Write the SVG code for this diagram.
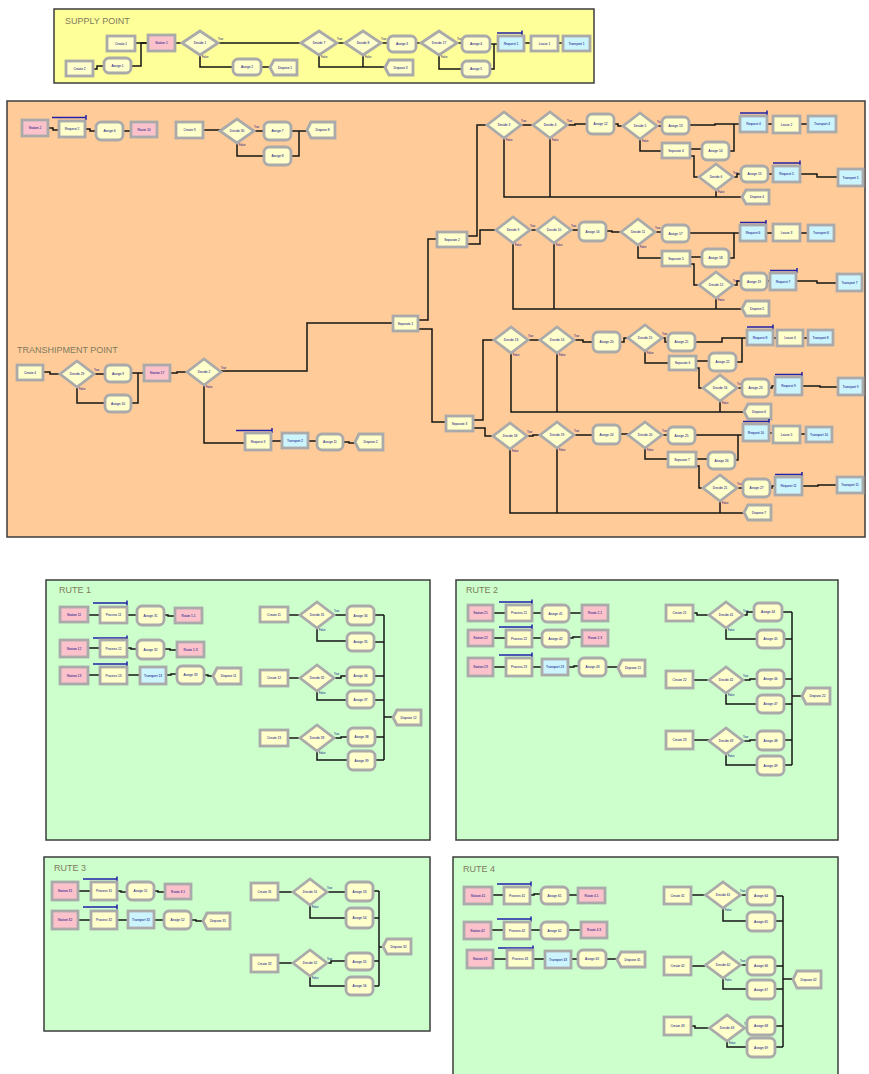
<svg xmlns="http://www.w3.org/2000/svg" width="869" height="1074" viewBox="0 0 869 1074">
<style>
.pn{stroke:#3c3c3c;stroke-width:1.5}
.y,.p,.c{stroke:#aaaaaa;stroke-width:2.8}
.y{fill:#ffffcc}.p{fill:#fbc2cc}.c{fill:#ccf4fd}
.t{font-family:"Liberation Sans",Arial,sans-serif;font-size:3.2px;fill:#000080;text-anchor:middle}
.tf{font-family:"Liberation Sans",Arial,sans-serif;font-size:2.6px;fill:#000080}
.ttl{font-family:"Liberation Sans",Arial,sans-serif;font-size:9px;fill:#807a5e}
#connectors path{fill:none;stroke:#141414;stroke-width:1.5}
.q{fill:none;stroke:#2020a8;stroke-width:1.5}
</style>
<rect width="869" height="1074" fill="#ffffff"/>
<g id="panels">
<rect class="pn" x="54" y="9" width="540" height="74" fill="#ffff99"/>
<rect class="pn" x="7" y="101" width="858" height="436" fill="#ffcc99"/>
<rect class="pn" x="46" y="580" width="384" height="260" fill="#ccffcc"/>
<rect class="pn" x="456" y="580" width="382" height="260" fill="#ccffcc"/>
<rect class="pn" x="44" y="857" width="386" height="174" fill="#ccffcc"/>
<rect class="pn" x="453" y="857" width="385" height="222" fill="#ccffcc"/>
<text class="ttl" x="65" y="24">SUPPLY POINT</text>
<text class="ttl" x="17" y="353">TRANSHIPMENT POINT</text>
<text class="ttl" x="59" y="593">RUTE 1</text>
<text class="ttl" x="466" y="593">RUTE 2</text>
<text class="ttl" x="54" y="871">RUTE 3</text>
<text class="ttl" x="463" y="872">RUTE 4</text>
</g>
<g id="connectors">
<path d="M93 69H97V66H104"/><path d="M131 66H141V43H148"/><path d="M135 43H148"/><path d="M175 43H182"/><path d="M218 43H301"/><path d="M200 55V67H233"/><path d="M261 67H270"/><path d="M337 43H345"/><path d="M319 55V67H385"/><path d="M363 55V67"/><path d="M381 43H388"/><path d="M416 43H421"/><path d="M457 43H462"/><path d="M439 55V69H462"/><path d="M490 44H498"/><path d="M490 69H494V44"/><path d="M524 43H531"/><path d="M558 43H563"/>
<path d="M48 128H53V130H59"/><path d="M85 129H90V131H96"/><path d="M123 131H131"/><path d="M203 130H220"/><path d="M254 131H264"/><path d="M237 143V156H264"/><path d="M291 131H307"/><path d="M291 156H299V131"/>
<path d="M43 372H50V374H60"/><path d="M94 374H105"/><path d="M77 387V403H105"/><path d="M131 373H144"/><path d="M131 403H138V373"/><path d="M170 373H177V372H187"/><path d="M221 371H307V323H393"/><path d="M204 385V443H245"/><path d="M271 441H282"/><path d="M308 441H317"/><path d="M343 442H349V443H355"/>
<path d="M418 320H428V239H437"/><path d="M418 329H432V422H446"/>
<path d="M467 236H477V125H487"/><path d="M467 244H480V230H496"/>
<path d="M473 420H483V340H494"/><path d="M473 428H485V436H493"/>
<path d="M521 125H533"/><path d="M567 125H575V124H587"/><path d="M614 124H618V126H623"/><path d="M657 126H662"/><path d="M689 125H715V124H740"/><path d="M729 151H734V124"/><path d="M767 124H773"/><path d="M800 124H808"/><path d="M640 139V151H662"/><path d="M690 149H702"/><path d="M690 156H694V177H699"/><path d="M733 177H737V174H741"/><path d="M768 174H773"/><path d="M800 174H817V177H838"/><path d="M504 138V197H742"/><path d="M550 138V197"/><path d="M716 190V197"/>
<path d="M530 230H537"/><path d="M571 230H579"/><path d="M606 231H612V232H621"/><path d="M655 232H662"/><path d="M689 233H740"/><path d="M729 258H734V233"/><path d="M766 233H773"/><path d="M800 233H808"/><path d="M638 245V258H662"/><path d="M690 257H702"/><path d="M690 264H694V285H699"/><path d="M733 285H737V281H741"/><path d="M767 281H770"/><path d="M796 281H817V283H837"/><path d="M513 243V309H742"/><path d="M554 243V309"/><path d="M716 298V309"/>
<path d="M528 340H540"/><path d="M574 340H583V342H593"/><path d="M620 342H624V338H628"/><path d="M662 338H665V342H668"/><path d="M695 342H722V338H747"/><path d="M736 362H742V338"/><path d="M773 338H777"/><path d="M803 338H808"/><path d="M645 351V363H669"/><path d="M696 361H709"/><path d="M696 368H699V388H703"/><path d="M737 388H742"/><path d="M769 388H772V386H775"/><path d="M802 386H820V387H838"/><path d="M511 353V412H744"/><path d="M557 353V412"/><path d="M720 401V412"/>
<path d="M527 436H533V435H540"/><path d="M574 435H593"/><path d="M620 434H628"/><path d="M662 435H668"/><path d="M695 435H743"/><path d="M735 460H738V435"/><path d="M769 433H773"/><path d="M800 434H806"/><path d="M645 448V459H668"/><path d="M696 459H708"/><path d="M696 466H699V488H703"/><path d="M737 488H743"/><path d="M770 488H772V486H775"/><path d="M802 486H818V485H837"/><path d="M510 449V513H744"/><path d="M557 448V513"/><path d="M720 501V513"/>
<path d="M88 615H100"/><path d="M127 615H137"/><path d="M164 615H168V616H175"/><path d="M88 648H100"/><path d="M127 648H131V649H137"/><path d="M164 649H170V650H177"/><path d="M88 675H100"/><path d="M127 675H140"/><path d="M166 675H171V674H177"/><path d="M204 675H208V676H213"/>
<path d="M288 615H300"/><path d="M334 615H347"/><path d="M317 628V641H347"/><path d="M374 615H384"/><path d="M374 642H384"/><path d="M384 615V760"/><path d="M384 717H393"/><path d="M288 678H300"/><path d="M334 678H341V676H347"/><path d="M317 691V700H347"/><path d="M374 676H384"/><path d="M374 700H384"/><path d="M288 738H300"/><path d="M334 738H341V737H348"/><path d="M317 751V760H348"/><path d="M375 737H384"/><path d="M375 760H384"/>
<path d="M493 613H506"/><path d="M532 613H542"/><path d="M569 613H582"/><path d="M493 638H506"/><path d="M532 638H542"/><path d="M569 638H573V637H582"/><path d="M493 667H506"/><path d="M532 667H542"/><path d="M568 667H574V666H579"/><path d="M606 667H618"/>
<path d="M693 613H697V615H709"/><path d="M743 615H747V612H754"/><path d="M726 628V639H757"/><path d="M782 612H792"/><path d="M784 639H792"/><path d="M792 612V765"/><path d="M792 696H802"/><path d="M693 680H709"/><path d="M743 680H750V679H757"/><path d="M726 693V704H757"/><path d="M784 679H792"/><path d="M784 704H792"/><path d="M693 740H709"/><path d="M743 741H750V740H757"/><path d="M726 754V765H757"/><path d="M784 740H792"/><path d="M784 765H792"/>
<path d="M78 891H91"/><path d="M117 891H121V892H127"/><path d="M154 891H158V892H165"/><path d="M78 920H91"/><path d="M117 920H128"/><path d="M154 920H164"/><path d="M191 920H196V921H203"/>
<path d="M278 892H293"/><path d="M327 892H346"/><path d="M310 905V918H346"/><path d="M373 891H379"/><path d="M373 918H379"/><path d="M379 891V986"/><path d="M379 947H383"/><path d="M278 963H293"/><path d="M327 963H331V961H346"/><path d="M310 976V986H346"/><path d="M373 961H379"/><path d="M373 986H379"/>
<path d="M492 895H504"/><path d="M530 895H534V894H541"/><path d="M568 895H578"/><path d="M491 930H504"/><path d="M530 930H541"/><path d="M568 930H581"/><path d="M493 959H507"/><path d="M533 959H545"/><path d="M571 959H578"/><path d="M606 959H617"/>
<path d="M691 895H705"/><path d="M740 895H747"/><path d="M723 908V921H747"/><path d="M775 896H783"/><path d="M775 921H783"/><path d="M783 896V1047"/><path d="M783 979H793"/><path d="M691 966H705"/><path d="M740 965H747"/><path d="M723 978V989H747"/><path d="M775 966H783"/><path d="M775 989H783"/><path d="M691 1026H695V1028H710"/><path d="M744 1028H747"/><path d="M727 1041V1047H747"/><path d="M775 1026H783"/><path d="M775 1047H783"/>
</g>
<g id="nodes-supply">
<g id="sp-create1" transform="translate(107,36)"><rect class="y" width="28" height="15"/><text class="t" x="14" y="8.6">Create 1</text></g>
<g id="sp-create2" transform="translate(66,61)"><rect class="y" width="27" height="15"/><text class="t" x="13.5" y="8.6">Create 2</text></g>
<g id="sp-assign1" transform="translate(104,58)"><rect class="y" rx="5" width="27" height="15"/><text class="t" x="13.5" y="8.6">Assign 1</text></g>
<g id="sp-station" transform="translate(148,35)"><rect class="p" width="27" height="16"/><text class="t" x="13.5" y="9.1">Station 1</text></g>
<g id="sp-decide1" transform="translate(200,43)"><polygon class="y" points="-18,0 0,-12 18,0 0,12"/><text class="t" y="1.1">Decide 1</text><text class="tf" x="18" y="-3">True</text><text class="tf" x="2" y="15">False</text></g>
<g id="sp-assign2" transform="translate(233,59)"><rect class="y" rx="5" width="28" height="16"/><text class="t" x="14" y="9.1">Assign 2</text></g>
<g id="sp-dispose1" transform="translate(270,60)"><polygon class="y" points="0,7.5 4,0 27,0 27,15 4,15"/><text class="t" x="15" y="8.6">Dispose 1</text></g>
<g id="sp-decide7" transform="translate(319,43)"><polygon class="y" points="-18,0 0,-12 18,0 0,12"/><text class="t" y="1.1">Decide 7</text><text class="tf" x="18" y="-3">True</text><text class="tf" x="2" y="15">False</text></g>
<g id="sp-decide8" transform="translate(363,43)"><polygon class="y" points="-18,0 0,-12 18,0 0,12"/><text class="t" y="1.1">Decide 8</text><text class="tf" x="18" y="-3">True</text><text class="tf" x="2" y="15">False</text></g>
<g id="sp-assign3" transform="translate(388,36)"><rect class="y" rx="5" width="28" height="16"/><text class="t" x="14" y="9.1">Assign 3</text></g>
<g id="sp-dispose3" transform="translate(385,60)"><polygon class="y" points="0,7.5 4,0 28,0 28,15 4,15"/><text class="t" x="15.5" y="8.6">Dispose 3</text></g>
<g id="sp-decide17" transform="translate(439,43)"><polygon class="y" points="-18,0 0,-12 18,0 0,12"/><text class="t" y="1.1">Decide 17</text><text class="tf" x="18" y="-3">True</text><text class="tf" x="2" y="15">False</text></g>
<g id="sp-assign4" transform="translate(462,36)"><rect class="y" rx="5" width="28" height="16"/><text class="t" x="14" y="9.1">Assign 4</text></g>
<g id="sp-assign5" transform="translate(462,61)"><rect class="y" rx="5" width="28" height="16"/><text class="t" x="14" y="9.1">Assign 5</text></g>
<g id="sp-request" transform="translate(498,36)"><path class="q" d="M-1 -3H24M24 -5.5V-0.5"/><rect class="c" width="26" height="15"/><text class="t" x="13" y="8.6">Request 1</text></g>
<g id="sp-leave" transform="translate(531,36)"><rect class="y" width="27" height="15"/><text class="t" x="13.5" y="8.6">Leave 1</text></g>
<g id="sp-transport1" transform="translate(563,36)"><rect class="c" width="27" height="15"/><text class="t" x="13.5" y="8.6">Transport 1</text></g>
</g>
<g id="nodes-tranship">
<g id="tp-station" transform="translate(22,120)"><rect class="p" width="26" height="16"/><text class="t" x="13" y="9.1">Station 2</text></g>
<g id="tp-request2" transform="translate(59,121)"><path class="q" d="M-7 -3.5H27M27 -6V-1"/><rect class="y" width="26" height="16"/><text class="t" x="13" y="9.1">Request 2</text></g>
<g id="tp-assign6" transform="translate(96,122)"><rect class="y" rx="5" width="27" height="18"/><text class="t" x="13.5" y="10.1">Assign 6</text></g>
<g id="tp-route10" transform="translate(131,122)"><rect class="p" width="26" height="15"/><text class="t" x="13" y="8.6">Route 10</text></g>
<g id="tp-create3" transform="translate(176,122)"><rect class="y" width="27" height="16"/><text class="t" x="13.5" y="9.1">Create 3</text></g>
<g id="tp-decide30" transform="translate(237,131)"><polygon class="y" points="-17,0 0,-12 17,0 0,12"/><text class="t" y="1.1">Decide 30</text><text class="tf" x="17" y="-3">True</text><text class="tf" x="2" y="15">False</text></g>
<g id="tp-assign7" transform="translate(264,122)"><rect class="y" rx="5" width="27" height="18"/><text class="t" x="13.5" y="10.1">Assign 7</text></g>
<g id="tp-assign8" transform="translate(264,147)"><rect class="y" rx="5" width="27" height="18"/><text class="t" x="13.5" y="10.1">Assign 8</text></g>
<g id="tp-dispose8" transform="translate(307,122)"><polygon class="y" points="0,8 4,0 28,0 28,16 4,16"/><text class="t" x="15.5" y="9.1">Dispose 8</text></g>
<g id="tp-create4" transform="translate(17,365)"><rect class="y" width="26" height="15"/><text class="t" x="13" y="8.6">Create 4</text></g>
<g id="tp-decide29" transform="translate(77,374)"><polygon class="y" points="-17,0 0,-13 17,0 0,13"/><text class="t" y="1.1">Decide 29</text><text class="tf" x="17" y="-3">True</text><text class="tf" x="2" y="16">False</text></g>
<g id="tp-assign9" transform="translate(105,365)"><rect class="y" rx="5" width="26" height="17"/><text class="t" x="13" y="9.6">Assign 9</text></g>
<g id="tp-assign10" transform="translate(105,395)"><rect class="y" rx="5" width="26" height="17"/><text class="t" x="13" y="9.6">Assign 10</text></g>
<g id="tp-station17" transform="translate(144,365)"><rect class="p" width="26" height="16"/><text class="t" x="13" y="9.1">Station 17</text></g>
<g id="tp-decide2" transform="translate(204,372)"><polygon class="y" points="-17,0 0,-13 17,0 0,13"/><text class="t" y="1.1">Decide 2</text><text class="tf" x="17" y="-3">True</text><text class="tf" x="2" y="16">False</text></g>
<g id="tp-request3" transform="translate(245,433)"><path class="q" d="M-9 -2.5H27M27 -5V0"/><rect class="y" width="26" height="17"/><text class="t" x="13" y="9.6">Request 3</text></g>
<g id="tp-transport2" transform="translate(282,433)"><rect class="c" width="26" height="15"/><text class="t" x="13" y="8.6">Transport 2</text></g>
<g id="tp-assign11" transform="translate(317,434)"><rect class="y" rx="5" width="26" height="16"/><text class="t" x="13" y="9.1">Assign 11</text></g>
<g id="tp-dispose2" transform="translate(355,434)"><polygon class="y" points="0,8 4,0 28,0 28,16 4,16"/><text class="t" x="15.5" y="9.1">Dispose 2</text></g>
<g id="tp-separate1" transform="translate(393,316)"><rect class="y" width="25" height="15"/><text class="t" x="12.5" y="8.6">Separate 1</text></g>
<g id="tp-separate2" transform="translate(437,232)"><rect class="y" width="30" height="15"/><text class="t" x="15" y="8.6">Separate 2</text></g>
<g id="tp-separate3" transform="translate(446,416)"><rect class="y" width="27" height="15"/><text class="t" x="13.5" y="8.6">Separate 3</text></g>
</g>
<g id="nodes-branch-a">
<g id="a-decide3" transform="translate(504,125)"><polygon class="y" points="-17,0 0,-13 17,0 0,13"/><text class="t" y="1.1">Decide 3</text><text class="tf" x="17" y="-3">True</text><text class="tf" x="2" y="16">False</text></g>
<g id="a-decide4" transform="translate(550,125)"><polygon class="y" points="-17,0 0,-13 17,0 0,13"/><text class="t" y="1.1">Decide 4</text><text class="tf" x="17" y="-3">True</text><text class="tf" x="2" y="16">False</text></g>
<g id="a-assign12" transform="translate(587,114)"><rect class="y" rx="5" width="27" height="20"/><text class="t" x="13.5" y="11.1">Assign 12</text></g>
<g id="a-decide5" transform="translate(640,126)"><polygon class="y" points="-17,0 0,-13 17,0 0,13"/><text class="t" y="1.1">Decide 5</text><text class="tf" x="17" y="-3">True</text><text class="tf" x="2" y="16">False</text></g>
<g id="a-assign13" transform="translate(662,117)"><rect class="y" rx="5" width="27" height="17"/><text class="t" x="13.5" y="9.6">Assign 13</text></g>
<g id="a-request4" transform="translate(740,116)"><path class="q" d="M0 -3H27M27 -5.5V-0.5"/><rect class="c" width="27" height="16"/><text class="t" x="13.5" y="9.1">Request 4</text></g>
<g id="a-leave2" transform="translate(773,116)"><rect class="y" width="27" height="17"/><text class="t" x="13.5" y="9.6">Leave 2</text></g>
<g id="a-transport4" transform="translate(808,116)"><rect class="c" width="28" height="16"/><text class="t" x="14" y="9.1">Transport 4</text></g>
<g id="a-separate4" transform="translate(662,143)"><rect class="y" width="28" height="15"/><text class="t" x="14" y="8.6">Separate 4</text></g>
<g id="a-assign14" transform="translate(702,142)"><rect class="y" rx="5" width="27" height="18"/><text class="t" x="13.5" y="10.1">Assign 14</text></g>
<g id="a-decide6" transform="translate(716,177)"><polygon class="y" points="-17,0 0,-13 17,0 0,13"/><text class="t" y="1.1">Decide 6</text><text class="tf" x="17" y="-3">True</text><text class="tf" x="2" y="16">False</text></g>
<g id="a-assign15" transform="translate(741,166)"><rect class="y" rx="5" width="27" height="16"/><text class="t" x="13.5" y="9.1">Assign 15</text></g>
<g id="a-request5" transform="translate(773,166)"><path class="q" d="M0 -3H27M27 -5.5V-0.5"/><rect class="c" width="27" height="16"/><text class="t" x="13.5" y="9.1">Request 5</text></g>
<g id="a-transport5" transform="translate(838,169)"><rect class="c" width="25" height="17"/><text class="t" x="12.5" y="9.6">Transport 5</text></g>
<g id="a-dispose4" transform="translate(742,190)"><polygon class="y" points="0,7 4,0 27,0 27,14 4,14"/><text class="t" x="15" y="8.1">Dispose 4</text></g>
</g>
<g id="nodes-branch-b">
<g id="b-decide9" transform="translate(513,230)"><polygon class="y" points="-17,0 0,-13 17,0 0,13"/><text class="t" y="1.1">Decide 9</text><text class="tf" x="17" y="-3">True</text><text class="tf" x="2" y="16">False</text></g>
<g id="b-decide10" transform="translate(554,230)"><polygon class="y" points="-17,0 0,-13 17,0 0,13"/><text class="t" y="1.1">Decide 10</text><text class="tf" x="17" y="-3">True</text><text class="tf" x="2" y="16">False</text></g>
<g id="b-assign16" transform="translate(579,222)"><rect class="y" rx="5" width="27" height="19"/><text class="t" x="13.5" y="10.6">Assign 16</text></g>
<g id="b-decide11" transform="translate(638,232)"><polygon class="y" points="-17,0 0,-13 17,0 0,13"/><text class="t" y="1.1">Decide 11</text><text class="tf" x="17" y="-3">True</text><text class="tf" x="2" y="16">False</text></g>
<g id="b-assign17" transform="translate(662,225)"><rect class="y" rx="5" width="27" height="17"/><text class="t" x="13.5" y="9.6">Assign 17</text></g>
<g id="b-request6" transform="translate(740,225)"><path class="q" d="M0 -2.5H26M26 -5V0"/><rect class="c" width="26" height="16"/><text class="t" x="13" y="9.1">Request 6</text></g>
<g id="b-leave3" transform="translate(773,224)"><rect class="y" width="27" height="17"/><text class="t" x="13.5" y="9.6">Leave 3</text></g>
<g id="b-transport6" transform="translate(808,225)"><rect class="c" width="26" height="16"/><text class="t" x="13" y="9.1">Transport 6</text></g>
<g id="b-separate5" transform="translate(662,251)"><rect class="y" width="28" height="15"/><text class="t" x="14" y="8.6">Separate 5</text></g>
<g id="b-assign18" transform="translate(702,249)"><rect class="y" rx="5" width="27" height="18"/><text class="t" x="13.5" y="10.1">Assign 18</text></g>
<g id="b-decide12" transform="translate(716,285)"><polygon class="y" points="-17,0 0,-13 17,0 0,13"/><text class="t" y="1.1">Decide 12</text><text class="tf" x="17" y="-3">True</text><text class="tf" x="2" y="16">False</text></g>
<g id="b-assign19" transform="translate(741,273)"><rect class="y" rx="5" width="26" height="17"/><text class="t" x="13" y="9.6">Assign 19</text></g>
<g id="b-request7" transform="translate(770,273)"><path class="q" d="M0 -2.5H27M27 -5V0"/><rect class="c" width="26" height="17"/><text class="t" x="13" y="9.6">Request 7</text></g>
<g id="b-transport7" transform="translate(837,274)"><rect class="c" width="25" height="17"/><text class="t" x="12.5" y="9.6">Transport 7</text></g>
<g id="b-dispose5" transform="translate(742,301)"><polygon class="y" points="0,7.5 4,0 27,0 27,15 4,15"/><text class="t" x="15" y="8.6">Dispose 5</text></g>
</g>
<g id="nodes-branch-c">
<g id="c-decide13" transform="translate(511,340)"><polygon class="y" points="-17,0 0,-13 17,0 0,13"/><text class="t" y="1.1">Decide 13</text><text class="tf" x="17" y="-3">True</text><text class="tf" x="2" y="16">False</text></g>
<g id="c-decide14" transform="translate(557,340)"><polygon class="y" points="-17,0 0,-13 17,0 0,13"/><text class="t" y="1.1">Decide 14</text><text class="tf" x="17" y="-3">True</text><text class="tf" x="2" y="16">False</text></g>
<g id="c-assign20" transform="translate(593,332)"><rect class="y" rx="5" width="27" height="20"/><text class="t" x="13.5" y="11.1">Assign 20</text></g>
<g id="c-decide15" transform="translate(645,338)"><polygon class="y" points="-17,0 0,-13 17,0 0,13"/><text class="t" y="1.1">Decide 15</text><text class="tf" x="17" y="-3">True</text><text class="tf" x="2" y="16">False</text></g>
<g id="c-assign21" transform="translate(668,333)"><rect class="y" rx="5" width="27" height="18"/><text class="t" x="13.5" y="10.1">Assign 21</text></g>
<g id="c-request8" transform="translate(747,330)"><path class="q" d="M0 -3H26M26 -5.5V-0.5"/><rect class="c" width="26" height="15"/><text class="t" x="13" y="8.6">Request 8</text></g>
<g id="c-leave4" transform="translate(777,330)"><rect class="y" width="26" height="16"/><text class="t" x="13" y="9.1">Leave 4</text></g>
<g id="c-transport8" transform="translate(808,330)"><rect class="c" width="25" height="15"/><text class="t" x="12.5" y="8.6">Transport 8</text></g>
<g id="c-separate6" transform="translate(669,356)"><rect class="y" width="27" height="14"/><text class="t" x="13.5" y="8.1">Separate 6</text></g>
<g id="c-assign22" transform="translate(709,353)"><rect class="y" rx="5" width="27" height="18"/><text class="t" x="13.5" y="10.1">Assign 22</text></g>
<g id="c-decide16" transform="translate(720,388)"><polygon class="y" points="-17,0 0,-13 17,0 0,13"/><text class="t" y="1.1">Decide 16</text><text class="tf" x="17" y="-3">True</text><text class="tf" x="2" y="16">False</text></g>
<g id="c-assign23" transform="translate(742,379)"><rect class="y" rx="5" width="27" height="18"/><text class="t" x="13.5" y="10.1">Assign 23</text></g>
<g id="c-request9" transform="translate(775,377)"><path class="q" d="M0 -2.5H27M27 -5V0"/><rect class="c" width="27" height="18"/><text class="t" x="13.5" y="10.1">Request 9</text></g>
<g id="c-transport9" transform="translate(838,378)"><rect class="c" width="25" height="17"/><text class="t" x="12.5" y="9.6">Transport 9</text></g>
<g id="c-dispose6" transform="translate(744,404)"><polygon class="y" points="0,7.5 4,0 27,0 27,15 4,15"/><text class="t" x="15" y="8.6">Dispose 6</text></g>
</g>
<g id="nodes-branch-d">
<g id="d-decide18" transform="translate(510,436)"><polygon class="y" points="-17,0 0,-13 17,0 0,13"/><text class="t" y="1.1">Decide 18</text><text class="tf" x="17" y="-3">True</text><text class="tf" x="2" y="16">False</text></g>
<g id="d-decide19" transform="translate(557,435)"><polygon class="y" points="-17,0 0,-13 17,0 0,13"/><text class="t" y="1.1">Decide 19</text><text class="tf" x="17" y="-3">True</text><text class="tf" x="2" y="16">False</text></g>
<g id="d-assign24" transform="translate(593,425)"><rect class="y" rx="5" width="27" height="19"/><text class="t" x="13.5" y="10.6">Assign 24</text></g>
<g id="d-decide20" transform="translate(645,435)"><polygon class="y" points="-17,0 0,-13 17,0 0,13"/><text class="t" y="1.1">Decide 20</text><text class="tf" x="17" y="-3">True</text><text class="tf" x="2" y="16">False</text></g>
<g id="d-assign25" transform="translate(668,427)"><rect class="y" rx="5" width="27" height="17"/><text class="t" x="13.5" y="9.6">Assign 25</text></g>
<g id="d-request10" transform="translate(743,424)"><path class="q" d="M0 -2.5H26M26 -5V0"/><rect class="c" width="26" height="17"/><text class="t" x="13" y="9.6">Request 10</text></g>
<g id="d-leave5" transform="translate(773,426)"><rect class="y" width="27" height="17"/><text class="t" x="13.5" y="9.6">Leave 5</text></g>
<g id="d-transport10" transform="translate(806,427)"><rect class="c" width="26" height="15"/><text class="t" x="13" y="8.6">Transport 10</text></g>
<g id="d-separate7" transform="translate(668,452)"><rect class="y" width="28" height="15"/><text class="t" x="14" y="8.6">Separate 7</text></g>
<g id="d-assign26" transform="translate(708,452)"><rect class="y" rx="5" width="27" height="17"/><text class="t" x="13.5" y="9.6">Assign 26</text></g>
<g id="d-decide21" transform="translate(720,488)"><polygon class="y" points="-17,0 0,-13 17,0 0,13"/><text class="t" y="1.1">Decide 21</text><text class="tf" x="17" y="-3">True</text><text class="tf" x="2" y="16">False</text></g>
<g id="d-assign27" transform="translate(743,479)"><rect class="y" rx="5" width="27" height="18"/><text class="t" x="13.5" y="10.1">Assign 27</text></g>
<g id="d-request11" transform="translate(775,477)"><path class="q" d="M0 -2.5H27M27 -5V0"/><rect class="c" width="27" height="18"/><text class="t" x="13.5" y="10.1">Request 11</text></g>
<g id="d-transport11" transform="translate(837,477)"><rect class="c" width="26" height="16"/><text class="t" x="13" y="9.1">Transport 11</text></g>
<g id="d-dispose7" transform="translate(744,505)"><polygon class="y" points="0,7.5 4,0 27,0 27,15 4,15"/><text class="t" x="15" y="8.6">Dispose 7</text></g>
</g>
<g id="nodes-rute1">
<g id="r1-station1" transform="translate(60,607)"><rect class="p" width="28" height="15"/><text class="t" x="14" y="8.6">Station 11</text></g>
<g id="r1-process1" transform="translate(100,607)"><path class="q" d="M-7 -4H27M27 -6.5V-1.5"/><rect class="y" width="27" height="16"/><text class="t" x="13.5" y="9.1">Process 11</text></g>
<g id="r1-assign1" transform="translate(137,606)"><rect class="y" rx="5" width="27" height="19"/><text class="t" x="13.5" y="10.6">Assign 31</text></g>
<g id="r1-route1" transform="translate(175,608)"><rect class="p" width="27" height="15"/><text class="t" x="13.5" y="8.6">Route 1.1</text></g>
<g id="r1-station2" transform="translate(60,640)"><rect class="p" width="28" height="17"/><text class="t" x="14" y="9.6">Station 12</text></g>
<g id="r1-process2" transform="translate(100,640)"><path class="q" d="M-7 -2H27M27 -4.5V0.5"/><rect class="y" width="27" height="17"/><text class="t" x="13.5" y="9.6">Process 12</text></g>
<g id="r1-assign2" transform="translate(137,640)"><rect class="y" rx="5" width="27" height="19"/><text class="t" x="13.5" y="10.6">Assign 32</text></g>
<g id="r1-route2" transform="translate(177,642)"><rect class="p" width="27" height="15"/><text class="t" x="13.5" y="8.6">Route 1.3</text></g>
<g id="r1-station3" transform="translate(60,667)"><rect class="p" width="28" height="17"/><text class="t" x="14" y="9.6">Station 13</text></g>
<g id="r1-process3" transform="translate(100,667)"><path class="q" d="M-7 -3H27M27 -5.5V-0.5"/><rect class="y" width="27" height="17"/><text class="t" x="13.5" y="9.6">Process 13</text></g>
<g id="r1-transport" transform="translate(140,667)"><rect class="c" width="26" height="17"/><text class="t" x="13" y="9.6">Transport 13</text></g>
<g id="r1-assign3" transform="translate(177,666)"><rect class="y" rx="5" width="27" height="18"/><text class="t" x="13.5" y="10.1">Assign 33</text></g>
<g id="r1-dispose1" transform="translate(213,668)"><polygon class="y" points="0,8 4,0 28,0 28,16 4,16"/><text class="t" x="15.5" y="9.1">Dispose 11</text></g>
<g id="r1-create1" transform="translate(260,607)"><rect class="y" width="28" height="15"/><text class="t" x="14" y="8.6">Create 11</text></g>
<g id="r1-decide1" transform="translate(317,615)"><polygon class="y" points="-17,0 0,-13 17,0 0,13"/><text class="t" y="1.1">Decide 31</text><text class="tf" x="17" y="-3">True</text><text class="tf" x="2" y="16">False</text></g>
<g id="r1-assign4" transform="translate(347,606)"><rect class="y" rx="5" width="27" height="19"/><text class="t" x="13.5" y="10.6">Assign 34</text></g>
<g id="r1-assign5" transform="translate(347,633)"><rect class="y" rx="5" width="27" height="18"/><text class="t" x="13.5" y="10.1">Assign 35</text></g>
<g id="r1-create2" transform="translate(260,670)"><rect class="y" width="28" height="16"/><text class="t" x="14" y="9.1">Create 12</text></g>
<g id="r1-decide2" transform="translate(317,678)"><polygon class="y" points="-17,0 0,-13 17,0 0,13"/><text class="t" y="1.1">Decide 32</text><text class="tf" x="17" y="-3">True</text><text class="tf" x="2" y="16">False</text></g>
<g id="r1-assign6" transform="translate(347,667)"><rect class="y" rx="5" width="27" height="18"/><text class="t" x="13.5" y="10.1">Assign 36</text></g>
<g id="r1-assign7" transform="translate(347,691)"><rect class="y" rx="5" width="27" height="17"/><text class="t" x="13.5" y="9.6">Assign 37</text></g>
<g id="r1-create3" transform="translate(260,730)"><rect class="y" width="28" height="16"/><text class="t" x="14" y="9.1">Create 13</text></g>
<g id="r1-decide3" transform="translate(317,738)"><polygon class="y" points="-17,0 0,-13 17,0 0,13"/><text class="t" y="1.1">Decide 33</text><text class="tf" x="17" y="-3">True</text><text class="tf" x="2" y="16">False</text></g>
<g id="r1-assign8" transform="translate(348,728)"><rect class="y" rx="5" width="27" height="18"/><text class="t" x="13.5" y="10.1">Assign 38</text></g>
<g id="r1-assign9" transform="translate(348,751)"><rect class="y" rx="5" width="27" height="19"/><text class="t" x="13.5" y="10.6">Assign 39</text></g>
<g id="r1-dispose2" transform="translate(393,710)"><polygon class="y" points="0,7.5 4,0 28,0 28,15 4,15"/><text class="t" x="15.5" y="8.6">Dispose 12</text></g>
</g>
<g id="nodes-rute2">
<g id="r2-station1" transform="translate(468,605)"><rect class="p" width="25" height="16"/><text class="t" x="12.5" y="9.1">Station 21</text></g>
<g id="r2-process1" transform="translate(506,605)"><path class="q" d="M-7 -3H26M26 -5.5V-0.5"/><rect class="y" width="26" height="16"/><text class="t" x="13" y="9.1">Process 21</text></g>
<g id="r2-assign1" transform="translate(542,605)"><rect class="y" rx="5" width="27" height="17"/><text class="t" x="13.5" y="9.6">Assign 41</text></g>
<g id="r2-route1" transform="translate(582,605)"><rect class="p" width="26" height="16"/><text class="t" x="13" y="9.1">Route 2.1</text></g>
<g id="r2-station2" transform="translate(468,630)"><rect class="p" width="25" height="16"/><text class="t" x="12.5" y="9.1">Station 22</text></g>
<g id="r2-process2" transform="translate(506,630)"><path class="q" d="M-7 -3H26M26 -5.5V-0.5"/><rect class="y" width="26" height="17"/><text class="t" x="13" y="9.6">Process 22</text></g>
<g id="r2-assign2" transform="translate(542,630)"><rect class="y" rx="5" width="27" height="17"/><text class="t" x="13.5" y="9.6">Assign 42</text></g>
<g id="r2-route2" transform="translate(582,630)"><rect class="p" width="26" height="16"/><text class="t" x="13" y="9.1">Route 2.3</text></g>
<g id="r2-station3" transform="translate(468,658)"><rect class="p" width="25" height="18"/><text class="t" x="12.5" y="10.1">Station 23</text></g>
<g id="r2-process3" transform="translate(506,658)"><path class="q" d="M-7 -3H26M26 -5.5V-0.5"/><rect class="y" width="26" height="18"/><text class="t" x="13" y="10.1">Process 23</text></g>
<g id="r2-transport" transform="translate(542,659)"><rect class="c" width="26" height="16"/><text class="t" x="13" y="9.1">Transport 23</text></g>
<g id="r2-assign3" transform="translate(579,658)"><rect class="y" rx="5" width="27" height="18"/><text class="t" x="13.5" y="10.1">Assign 43</text></g>
<g id="r2-dispose1" transform="translate(618,660)"><polygon class="y" points="0,8 4,0 27,0 27,16 4,16"/><text class="t" x="15" y="9.1">Dispose 21</text></g>
<g id="r2-create1" transform="translate(666,605)"><rect class="y" width="27" height="16"/><text class="t" x="13.5" y="9.1">Create 21</text></g>
<g id="r2-decide1" transform="translate(726,615)"><polygon class="y" points="-17,0 0,-13 17,0 0,13"/><text class="t" y="1.1">Decide 41</text><text class="tf" x="17" y="-3">True</text><text class="tf" x="2" y="16">False</text></g>
<g id="r2-assign4" transform="translate(754,603)"><rect class="y" rx="5" width="28" height="18"/><text class="t" x="14" y="10.1">Assign 44</text></g>
<g id="r2-assign5" transform="translate(757,630)"><rect class="y" rx="5" width="27" height="18"/><text class="t" x="13.5" y="10.1">Assign 45</text></g>
<g id="r2-create2" transform="translate(666,671)"><rect class="y" width="27" height="17"/><text class="t" x="13.5" y="9.6">Create 22</text></g>
<g id="r2-decide2" transform="translate(726,680)"><polygon class="y" points="-17,0 0,-13 17,0 0,13"/><text class="t" y="1.1">Decide 42</text><text class="tf" x="17" y="-3">True</text><text class="tf" x="2" y="16">False</text></g>
<g id="r2-assign6" transform="translate(757,670)"><rect class="y" rx="5" width="27" height="18"/><text class="t" x="13.5" y="10.1">Assign 46</text></g>
<g id="r2-assign7" transform="translate(757,695)"><rect class="y" rx="5" width="27" height="18"/><text class="t" x="13.5" y="10.1">Assign 47</text></g>
<g id="r2-create3" transform="translate(666,731)"><rect class="y" width="27" height="18"/><text class="t" x="13.5" y="10.1">Create 23</text></g>
<g id="r2-decide3" transform="translate(726,741)"><polygon class="y" points="-17,0 0,-13 17,0 0,13"/><text class="t" y="1.1">Decide 43</text><text class="tf" x="17" y="-3">True</text><text class="tf" x="2" y="16">False</text></g>
<g id="r2-assign8" transform="translate(757,731)"><rect class="y" rx="5" width="27" height="19"/><text class="t" x="13.5" y="10.6">Assign 48</text></g>
<g id="r2-assign9" transform="translate(757,756)"><rect class="y" rx="5" width="27" height="19"/><text class="t" x="13.5" y="10.6">Assign 49</text></g>
<g id="r2-dispose2" transform="translate(802,688)"><polygon class="y" points="0,8 4,0 28,0 28,16 4,16"/><text class="t" x="15.5" y="9.1">Dispose 22</text></g>
</g>
<g id="nodes-rute3">
<g id="r3-station1" transform="translate(52,882)"><rect class="p" width="26" height="18"/><text class="t" x="13" y="10.1">Station 31</text></g>
<g id="r3-process1" transform="translate(91,882)"><path class="q" d="M-8 -3H26M26 -5.5V-0.5"/><rect class="y" width="26" height="18"/><text class="t" x="13" y="10.1">Process 31</text></g>
<g id="r3-assign1" transform="translate(127,882)"><rect class="y" rx="5" width="27" height="18"/><text class="t" x="13.5" y="10.1">Assign 51</text></g>
<g id="r3-route1" transform="translate(165,884)"><rect class="p" width="26" height="15"/><text class="t" x="13" y="8.6">Route 3.1</text></g>
<g id="r3-station2" transform="translate(52,911)"><rect class="p" width="26" height="18"/><text class="t" x="13" y="10.1">Station 32</text></g>
<g id="r3-process2" transform="translate(91,911)"><path class="q" d="M-8 -4H26M26 -6.5V-1.5"/><rect class="y" width="26" height="18"/><text class="t" x="13" y="10.1">Process 32</text></g>
<g id="r3-transport" transform="translate(128,911)"><rect class="c" width="26" height="17"/><text class="t" x="13" y="9.6">Transport 32</text></g>
<g id="r3-assign2" transform="translate(164,911)"><rect class="y" rx="5" width="27" height="18"/><text class="t" x="13.5" y="10.1">Assign 52</text></g>
<g id="r3-dispose1" transform="translate(203,913)"><polygon class="y" points="0,8 4,0 27,0 27,16 4,16"/><text class="t" x="15" y="9.1">Dispose 31</text></g>
<g id="r3-create1" transform="translate(251,883)"><rect class="y" width="27" height="17"/><text class="t" x="13.5" y="9.6">Create 31</text></g>
<g id="r3-decide1" transform="translate(310,892)"><polygon class="y" points="-17,0 0,-13 17,0 0,13"/><text class="t" y="1.1">Decide 51</text><text class="tf" x="17" y="-3">True</text><text class="tf" x="2" y="16">False</text></g>
<g id="r3-assign3" transform="translate(346,882)"><rect class="y" rx="5" width="27" height="19"/><text class="t" x="13.5" y="10.6">Assign 53</text></g>
<g id="r3-assign4" transform="translate(346,908)"><rect class="y" rx="5" width="27" height="20"/><text class="t" x="13.5" y="11.1">Assign 54</text></g>
<g id="r3-create2" transform="translate(251,955)"><rect class="y" width="27" height="17"/><text class="t" x="13.5" y="9.6">Create 32</text></g>
<g id="r3-decide2" transform="translate(310,963)"><polygon class="y" points="-17,0 0,-13 17,0 0,13"/><text class="t" y="1.1">Decide 52</text><text class="tf" x="17" y="-3">True</text><text class="tf" x="2" y="16">False</text></g>
<g id="r3-assign5" transform="translate(346,953)"><rect class="y" rx="5" width="27" height="17"/><text class="t" x="13.5" y="9.6">Assign 55</text></g>
<g id="r3-assign6" transform="translate(346,977)"><rect class="y" rx="5" width="27" height="18"/><text class="t" x="13.5" y="10.1">Assign 56</text></g>
<g id="r3-dispose2" transform="translate(383,939)"><polygon class="y" points="0,7.5 4,0 28,0 28,15 4,15"/><text class="t" x="15.5" y="8.6">Dispose 32</text></g>
</g>
<g id="nodes-rute4">
<g id="r4-station1" transform="translate(464,887)"><rect class="p" width="28" height="17"/><text class="t" x="14" y="9.6">Station 41</text></g>
<g id="r4-process1" transform="translate(504,887)"><path class="q" d="M-7 -3H27M27 -5.5V-0.5"/><rect class="y" width="26" height="17"/><text class="t" x="13" y="9.6">Process 41</text></g>
<g id="r4-assign1" transform="translate(541,887)"><rect class="y" rx="5" width="27" height="17"/><text class="t" x="13.5" y="9.6">Assign 61</text></g>
<g id="r4-route1" transform="translate(578,888)"><rect class="p" width="27" height="15"/><text class="t" x="13.5" y="8.6">Route 4.1</text></g>
<g id="r4-station2" transform="translate(464,922)"><rect class="p" width="27" height="17"/><text class="t" x="13.5" y="9.6">Station 42</text></g>
<g id="r4-process2" transform="translate(504,922)"><path class="q" d="M-7 -3H27M27 -5.5V-0.5"/><rect class="y" width="26" height="17"/><text class="t" x="13" y="9.6">Process 42</text></g>
<g id="r4-assign2" transform="translate(541,922)"><rect class="y" rx="5" width="27" height="17"/><text class="t" x="13.5" y="9.6">Assign 62</text></g>
<g id="r4-route2" transform="translate(581,922)"><rect class="p" width="26" height="16"/><text class="t" x="13" y="9.1">Route 4.3</text></g>
<g id="r4-station3" transform="translate(467,950)"><rect class="p" width="26" height="18"/><text class="t" x="13" y="10.1">Station 43</text></g>
<g id="r4-process3" transform="translate(507,950)"><path class="q" d="M-9 -2H26M26 -4.5V0.5"/><rect class="y" width="26" height="18"/><text class="t" x="13" y="10.1">Process 43</text></g>
<g id="r4-transport" transform="translate(545,951)"><rect class="c" width="26" height="17"/><text class="t" x="13" y="9.6">Transport 43</text></g>
<g id="r4-assign3" transform="translate(578,950)"><rect class="y" rx="5" width="28" height="18"/><text class="t" x="14" y="10.1">Assign 63</text></g>
<g id="r4-dispose1" transform="translate(617,952)"><polygon class="y" points="0,7.5 4,0 28,0 28,15 4,15"/><text class="t" x="15.5" y="8.6">Dispose 41</text></g>
<g id="r4-create1" transform="translate(664,887)"><rect class="y" width="27" height="17"/><text class="t" x="13.5" y="9.6">Create 41</text></g>
<g id="r4-decide1" transform="translate(723,895)"><polygon class="y" points="-17.5,0 0,-13 17.5,0 0,13"/><text class="t" y="1.1">Decide 61</text><text class="tf" x="17" y="-3">True</text><text class="tf" x="2" y="16">False</text></g>
<g id="r4-assign4" transform="translate(747,887)"><rect class="y" rx="5" width="28" height="18"/><text class="t" x="14" y="10.1">Assign 64</text></g>
<g id="r4-assign5" transform="translate(747,912)"><rect class="y" rx="5" width="28" height="19"/><text class="t" x="14" y="10.6">Assign 65</text></g>
<g id="r4-create2" transform="translate(664,957)"><rect class="y" width="27" height="18"/><text class="t" x="13.5" y="10.1">Create 42</text></g>
<g id="r4-decide2" transform="translate(723,965)"><polygon class="y" points="-17.5,0 0,-13 17.5,0 0,13"/><text class="t" y="1.1">Decide 62</text><text class="tf" x="17" y="-3">True</text><text class="tf" x="2" y="16">False</text></g>
<g id="r4-assign6" transform="translate(747,957)"><rect class="y" rx="5" width="28" height="18"/><text class="t" x="14" y="10.1">Assign 66</text></g>
<g id="r4-assign7" transform="translate(747,980)"><rect class="y" rx="5" width="28" height="19"/><text class="t" x="14" y="10.6">Assign 67</text></g>
<g id="r4-create3" transform="translate(664,1017)"><rect class="y" width="27" height="18"/><text class="t" x="13.5" y="10.1">Create 43</text></g>
<g id="r4-decide3" transform="translate(727,1028)"><polygon class="y" points="-17.5,0 0,-13 17.5,0 0,13"/><text class="t" y="1.1">Decide 63</text><text class="tf" x="17" y="-3">True</text><text class="tf" x="2" y="16">False</text></g>
<g id="r4-assign8" transform="translate(747,1017)"><rect class="y" rx="5" width="28" height="18"/><text class="t" x="14" y="10.1">Assign 68</text></g>
<g id="r4-assign9" transform="translate(747,1038)"><rect class="y" rx="5" width="28" height="19"/><text class="t" x="14" y="10.6">Assign 69</text></g>
<g id="r4-dispose2" transform="translate(793,971)"><polygon class="y" points="0,8.5 4,0 28,0 28,17 4,17"/><text class="t" x="15.5" y="9.6">Dispose 42</text></g>
</g>
</svg>
